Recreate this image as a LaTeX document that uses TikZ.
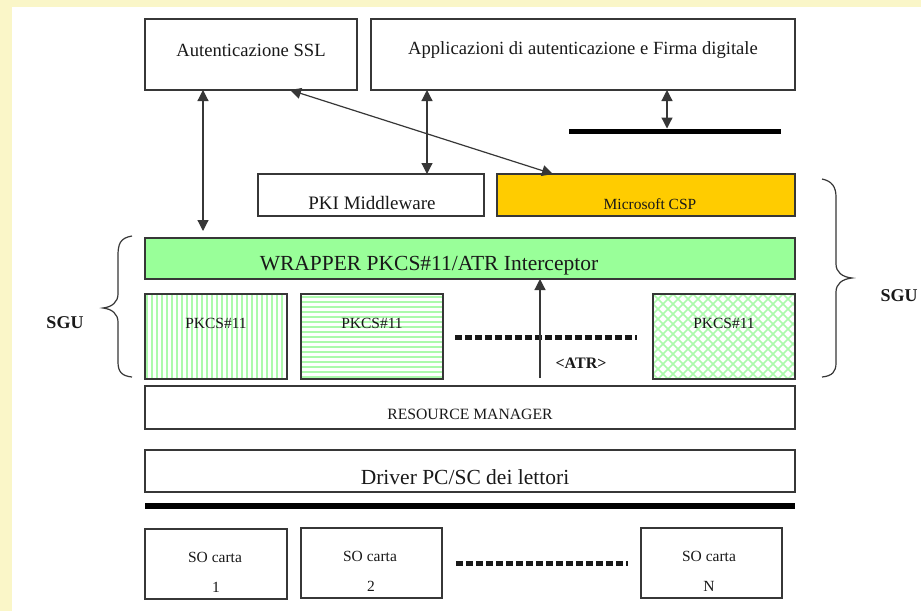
\documentclass[tikz,border=0pt]{standalone}
\usepackage{fontspec}
\setmainfont{Liberation Serif}
\usetikzlibrary{arrows.meta}
\definecolor{bgy}{RGB}{250,246,200}
\definecolor{wgreen}{RGB}{153,255,153}
\definecolor{hgreen}{RGB}{172,250,172}
\definecolor{cspfill}{RGB}{255,204,0}
\definecolor{edge}{RGB}{55,55,55}
\newcommand{\myfs}[1]{\fontsize{#1}{#1}\selectfont}
\begin{document}
\begin{tikzpicture}[x=1pt,y=-1pt,
  box/.style={draw=edge,line width=1.2pt,inner sep=0pt,outer sep=0pt},
  lbl/.style={inner sep=0pt,text=black!90},
  tip/.tip={Triangle[length=11pt,width=11pt]},
  dbl/.style={tip-tip,line width=1.2pt,draw=edge},
  sgl/.style={-tip,line width=1.2pt,draw=edge},
  dots/.style={line width=5pt,dash pattern=on 7pt off 3pt,draw=black!90},
  hatch/.style={hgreen,line width=2pt},
  brace/.style={draw=edge,line width=1.2pt}]
\useasboundingbox (0,0) rectangle (921,611);
\fill[white] (0,0) rectangle (921,611);
\fill[bgy] (0,0) rectangle (921,7);
\fill[bgy] (0,0) rectangle (12,611);

% top boxes
\node[box,minimum width=212pt,minimum height=71pt] (ssl) at (251,54.5) {};
\node[lbl,font=\myfs{18.6}] (tssl) at (251,50) {Autenticazione SSL};
\node[box,minimum width=424pt,minimum height=71pt] (app) at (583,54.5) {};
\node[lbl,font=\myfs{18.6}] (tapp) at (583,50) {Applicazioni di autenticazione e Firma digitale};

% thick bar top right
\coordinate (tb1) at (569,131);
\coordinate (tb2) at (781,131);
\draw[line width=5pt,black] (tb1) -- (tb2);

% middle row
\node[box,minimum width=226pt,minimum height=42pt] (pki) at (371,195) {};
\node[lbl,font=\myfs{19}] (tpki) at (372,203) {PKI Middleware};
\node[box,fill=cspfill,minimum width=298pt,minimum height=42pt] (csp) at (646,195) {};
\node[lbl,font=\myfs{15.5}] (tcsp) at (650,204) {Microsoft CSP};

% wrapper
\node[box,fill=wgreen,minimum width=650pt,minimum height=41pt] (wrap) at (470,258.5) {};
\node[lbl,font=\myfs{21.5}] (twrap) at (429,266) {WRAPPER PKCS\#11/ATR Interceptor};

% PKCS boxes with hatching
\begin{scope}
  \clip (145,294) rectangle (287,379);
  \foreach \x in {147,152,...,290} \draw[hatch] (\x,294) -- (\x,379);
\end{scope}
\begin{scope}
  \clip (301,294) rectangle (443,379);
  \foreach \y in {297,302,...,380} \draw[hatch] (301,\y) -- (443,\y);
\end{scope}
\begin{scope}
  \clip (653,294) rectangle (795,379);
  \foreach \x in {563,573,...,890} {
    \draw[hgreen,line width=1.5pt] (\x,294) -- ++(85,85);
    \draw[hgreen,line width=1.5pt] (\x,294) -- ++(-85,85);
  }
\end{scope}
\node[box,minimum width=142pt,minimum height=85pt] (p1) at (216,336.5) {};
\node[box,minimum width=142pt,minimum height=85pt] (p2) at (372,336.5) {};
\node[box,minimum width=142pt,minimum height=85pt] (p3) at (724,336.5) {};
\node[lbl,font=\myfs{15.5}] (tp1) at (216,323) {PKCS\#11};
\node[lbl,font=\myfs{15.5}] (tp2) at (372,323) {PKCS\#11};
\node[lbl,font=\myfs{15.5}] (tp3) at (724,323) {PKCS\#11};

\coordinate (d1) at (455,337);
\coordinate (d2) at (637,337);
\draw[dots] (d1) -- (d2);

\coordinate (atrb) at (540,378);
\node[lbl,font=\myfs{16}\bfseries] (tatr) at (581,363) {<ATR>};

% resource manager, driver
\node[box,minimum width=650pt,minimum height=43pt] (res) at (470,407.5) {};
\node[lbl,font=\myfs{15.7}] (tres) at (470,414) {RESOURCE MANAGER};
\node[box,minimum width=650pt,minimum height=42pt] (drv) at (470,471) {};
\node[lbl,font=\myfs{21.5}] (tdrv) at (465,477) {Driver PC/SC dei lettori};

\coordinate (bb1) at (145,506);
\coordinate (bb2) at (795,506);
\draw[line width=6pt,black] (bb1) -- (bb2);

% SO carta
\node[box,minimum width=142pt,minimum height=70pt] (so1) at (216,564) {};
\node[box,minimum width=141pt,minimum height=70pt] (so2) at (371.5,563) {};
\node[box,minimum width=141pt,minimum height=70pt] (so3) at (711.5,563) {};
\node[lbl,font=\myfs{15.5}] (ts1) at (215,557) {SO carta};
\node[lbl,font=\myfs{15.5}] (tn1) at (216,587) {1};
\node[lbl,font=\myfs{15.5}] (ts2) at (370,556) {SO carta};
\node[lbl,font=\myfs{15.5}] (tn2) at (371,586) {2};
\node[lbl,font=\myfs{15.5}] (ts3) at (709,556) {SO carta};
\node[lbl,font=\myfs{15.5}] (tn3) at (709,586) {N};
\coordinate (e1) at (456,563);
\coordinate (e2) at (628,563);
\draw[dots] (e1) -- (e2);

% arrows
\coordinate (ax1) at (203,0);
\coordinate (ax2) at (290,0);
\coordinate (ax3) at (553,0);
\coordinate (ax4) at (427,0);
\coordinate (ax5) at (667,0);
\coordinate (ax6) at (540,0);
\draw[dbl] (ssl.south -| ax1) -- ([yshift=7pt]wrap.north -| ax1);
\draw[dbl] (ssl.south -| ax2) -- (csp.north -| ax3);
\draw[dbl] (app.south -| ax4) -- (pki.north -| ax4);
\draw[dbl] (app.south -| ax5) -- ([yshift=2.5pt]tb1 -| ax5);
\draw[sgl] (atrb) -- (wrap.south -| ax6);

% braces
\draw[brace] (132,236) .. controls (120,238) and (118,244) .. (118,256)
  -- (118,294) .. controls (118,302) and (112,307) .. (103,308)
  .. controls (112,309) and (118,314) .. (118,322)
  -- (118,362) .. controls (118,372) and (122,376) .. (132,377);
\draw[brace] (822,179) .. controls (832,181) and (836,187) .. (836,197)
  -- (836,264) .. controls (836,272) and (842,277) .. (852,278)
  .. controls (842,279) and (836,284) .. (836,292)
  -- (836,363) .. controls (836,372) and (832,376) .. (822,377);
\node[lbl,font=\myfs{18}\bfseries] (sgul) at (65,323) {SGU};
\node[lbl,font=\myfs{18}\bfseries] (sgur) at (899,296) {SGU};
\end{tikzpicture}
\end{document}
